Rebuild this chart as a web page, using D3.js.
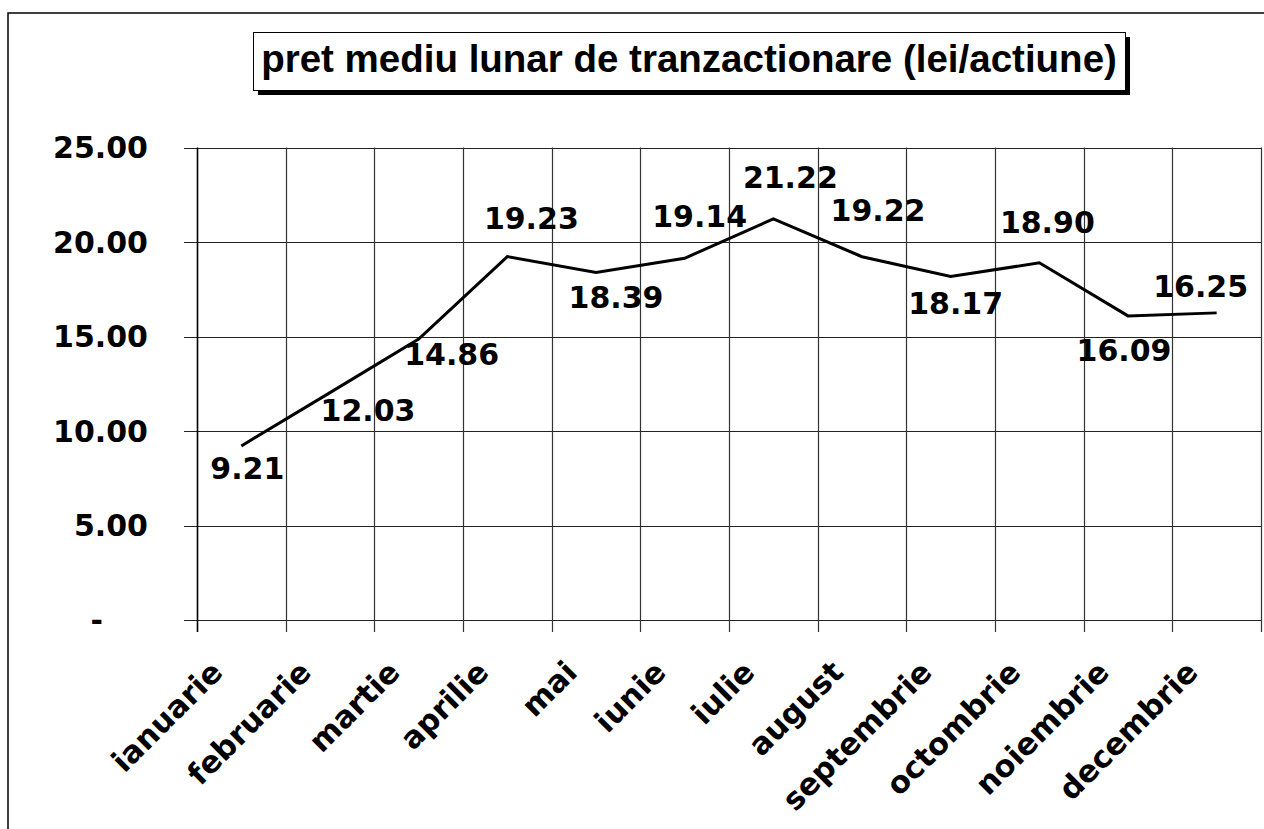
<!DOCTYPE html>
<html>
<head>
<meta charset="utf-8">
<script src="https://cdn.jsdelivr.net/npm/d3@7"></script>
<style>
  html, body { margin: 0; padding: 0; background: #fff; }
  svg { display: block; }
</style>
</head>
<body>
<svg id="chart" width="1264" height="829"></svg>
<script>
// ---- data ----
const categories = ["ianuarie", "februarie", "martie", "aprilie", "mai", "iunie",
                    "iulie", "august", "septembrie", "octombrie", "noiembrie", "decembrie"];
const values = [9.21, 12.03, 14.86, 19.23, 18.39, 19.14, 21.22, 19.22, 18.17, 18.90, 16.09, 16.25];
const yTickValues = [0, 5, 10, 15, 20, 25];
const yTickLabels = ["-", "5.00", "10.00", "15.00", "20.00", "25.00"];
const titleText = "pret mediu lunar de tranzactionare (lei/actiune)";

// ---- layout (not data) ----
const plot = { left: 197, right: 1261, top: 147.5, bottom: 620 };
// manual data-label offsets relative to each point (as placed in the original)
const labelOffsets = [[6, 23], [38, 18], [33, 15], [24, -38], [20, 25], [15, -42],
                      [17, -41], [16, -46], [5, 27], [8, -40], [-4, 35], [-16, -26]];
const numFont = "'DejaVu Sans', Verdana, sans-serif";

const svg = d3.select("#chart");

// outer border
svg.append("path")
  .attr("d", "M8,835 L8,13 L1270,13")
  .attr("fill", "none").attr("stroke", "#000").attr("stroke-width", 1.5);

const x = d3.scaleBand().domain(categories).range([plot.left, plot.right]).padding(0);
const y = d3.scaleLinear().domain([0, 25]).range([plot.bottom, plot.top]);

// horizontal gridlines (with tick marks extending left)
svg.append("g").selectAll("line").data(yTickValues).join("line")
  .attr("x1", plot.left - 13).attr("x2", plot.right)
  .attr("y1", d => Math.round(y(d)) + 0.5).attr("y2", d => Math.round(y(d)) + 0.5)
  .attr("stroke", "#222").attr("stroke-width", 1.2);

// vertical gridlines at band boundaries (with tick marks below)
const bounds = categories.map(c => x(c)).concat([plot.right]);
svg.append("g").selectAll("line").data(bounds).join("line")
  .attr("x1", d => Math.round(d) + 0.5).attr("x2", d => Math.round(d) + 0.5)
  .attr("y1", plot.top).attr("y2", plot.bottom + 12)
  .attr("stroke", (d, i) => i === 0 ? "#000" : "#333")
  .attr("stroke-width", (d, i) => i === 0 ? 1.6 : 1.2);

// y tick labels
svg.append("g").selectAll("text").data(yTickValues).join("text")
  .attr("x", (d, i) => yTickLabels[i] === "-" ? 103 : 148)
  .attr("y", d => y(d))
  .attr("text-anchor", "end")
  .attr("dominant-baseline", "central")
  .attr("font-family", numFont).attr("font-weight", "bold").attr("font-size", 30)
  .text((d, i) => yTickLabels[i]);

// x category labels rotated -45
svg.append("g").selectAll("text").data(categories).join("text")
  .attr("text-anchor", "end")
  .attr("transform", d => `translate(${x(d) + x.bandwidth() / 2 - 17},674) rotate(-45)`)
  .attr("font-family", numFont).attr("font-weight", "bold").attr("font-size", 30.5)
  .text(d => d);

// line
const line = d3.line()
  .x((d, i) => x(categories[i]) + x.bandwidth() / 2)
  .y(d => y(d));
svg.append("path").datum(values)
  .attr("d", line)
  .attr("fill", "none").attr("stroke", "#000").attr("stroke-width", 3)
  .attr("stroke-linejoin", "miter");

// data labels
svg.append("g").selectAll("text").data(values).join("text")
  .attr("x", (d, i) => x(categories[i]) + x.bandwidth() / 2 + labelOffsets[i][0])
  .attr("y", (d, i) => y(d) + labelOffsets[i][1])
  .attr("text-anchor", "middle")
  .attr("dominant-baseline", "central")
  .attr("font-family", numFont).attr("font-weight", "bold").attr("font-size", 30)
  .text(d => d3.format(".2f")(d));

// title box with shadow
const tb = { x: 253, y: 32, w: 872, h: 58 };
svg.append("rect").attr("x", tb.x + 5).attr("y", tb.y + 5).attr("width", tb.w).attr("height", tb.h)
  .attr("fill", "#000");
svg.append("rect").attr("x", tb.x + 0.5).attr("y", tb.y + 0.5).attr("width", tb.w).attr("height", tb.h)
  .attr("fill", "#fff").attr("stroke", "#000").attr("stroke-width", 1);
svg.append("text")
  .attr("x", tb.x + tb.w / 2).attr("y", 72)
  .attr("text-anchor", "middle")
  .attr("font-family", "'Liberation Sans', Arial, sans-serif").attr("font-weight", "bold")
  .attr("font-size", 38.5)
  .text(titleText);
</script>
</body>
</html>
